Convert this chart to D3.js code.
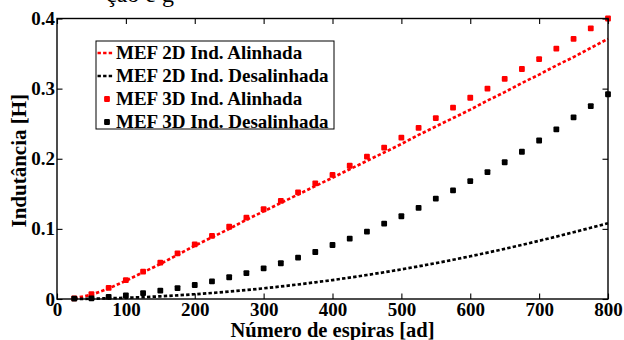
<!DOCTYPE html>
<html>
<head>
<meta charset="utf-8">
<script src="https://cdn.jsdelivr.net/npm/d3@7"></script>
<style>
  body { margin: 0; background: #fff; }
  svg { display: block; }
  text { font-family: "Liberation Serif", "Times New Roman", serif; fill: #000; }
</style>
</head>
<body>
<svg id="chart" width="624" height="340"></svg>
<script>
// Número de espiras (ad)
const espiras = [25, 50, 75, 100, 125, 150, 175, 200, 225, 250, 275, 300, 325, 350, 375, 400,
                 425, 450, 475, 500, 525, 550, 575, 600, 625, 650, 675, 700, 725, 750, 775, 800];

// Indutância [H] — MEF 2D, posição alinhada
const mef2dAlinhada = [0.001, 0.006, 0.015, 0.026, 0.038, 0.050, 0.063, 0.076, 0.088, 0.100, 0.113, 0.125,
                       0.137, 0.149, 0.161, 0.173, 0.185, 0.197, 0.209, 0.221, 0.234, 0.246, 0.258, 0.270,
                       0.283, 0.295, 0.308, 0.320, 0.333, 0.345, 0.358, 0.371];

// Indutância [H] — MEF 2D, posição desalinhada
const mef2dDesalinhada = [0.0001, 0.0004, 0.0010, 0.0017, 0.0026, 0.0038, 0.0052, 0.0068, 0.0086, 0.0106, 0.0128, 0.0152,
                          0.0179, 0.0207, 0.0238, 0.0270, 0.0305, 0.0342, 0.0381, 0.0422, 0.0466, 0.0511, 0.0559, 0.0609,
                          0.0661, 0.0715, 0.0771, 0.0830, 0.0890, 0.0952, 0.1016, 0.1080];

// Indutância [H] — MEF 3D, posição alinhada
const mef3dAlinhada = [0.001, 0.007, 0.016, 0.027, 0.039, 0.052, 0.065, 0.078, 0.090, 0.103, 0.116, 0.128,
                       0.140, 0.152, 0.165, 0.177, 0.190, 0.203, 0.216, 0.230, 0.244, 0.258, 0.273, 0.287,
                       0.300, 0.314, 0.328, 0.342, 0.357, 0.371, 0.386, 0.400];

// Indutância [H] — MEF 3D, posição desalinhada
const mef3dDesalinhada = [0.0005, 0.001, 0.003, 0.005, 0.0085, 0.012, 0.0156, 0.020, 0.025, 0.031, 0.037, 0.0436,
                          0.051, 0.059, 0.067, 0.077, 0.086, 0.096, 0.1075, 0.118, 0.130, 0.143, 0.155, 0.168,
                          0.181, 0.195, 0.210, 0.226, 0.242, 0.259, 0.275, 0.292];

const xTicks = [0, 100, 200, 300, 400, 500, 600, 700, 800];
const yTicks = [0, 0.1, 0.2, 0.3, 0.4];
const yTickLabels = ["0", "0.1", "0.2", "0.3", "0.4"];

const legendLabels = ["MEF 2D Ind. Alinhada", "MEF 2D Ind. Desalinhada",
                      "MEF 3D Ind. Alinhada", "MEF 3D Ind. Desalinhada"];

const xTitle = "Número de espiras [ad]";
const yTitle = "Indutância [H]";
const captionFragment = "ção e g";

// ---- layout ----
const svg = d3.select("#chart");
const plot = { left: 57, right: 608, top: 18.5, bottom: 299 };
const RED = "#ff0000", BLACK = "#000000";
const tickLen = 5.5;

const x = d3.scaleLinear().domain([0, 800]).range([plot.left, plot.right]);
const y = d3.scaleLinear().domain([0, 0.4]).range([plot.bottom, plot.top]);

// running text of the page above, clipped by the top edge
svg.append("text")
  .attr("x", 106).attr("y", 2)
  .style("font-size", "24px")
  .text(captionFragment);

// ---- series ----
const line = d3.line().x((d, i) => x(espiras[i])).y(d => y(d));

const dashed = [
  { values: mef2dAlinhada, color: RED },
  { values: mef2dDesalinhada, color: BLACK }
];
const markers = [
  { values: mef3dAlinhada, color: RED },
  { values: mef3dDesalinhada, color: BLACK }
];

const gData = svg.append("g");
dashed.forEach(s => {
  gData.append("path")
    .attr("d", line(s.values))
    .attr("fill", "none")
    .attr("stroke", s.color)
    .attr("stroke-width", 2.7)
    .attr("stroke-dasharray", "3.4 2.2");
});

const ms = 5.8;
markers.forEach(s => {
  gData.selectAll(null)
    .data(s.values)
    .join("rect")
    .attr("x", (d, i) => x(espiras[i]) - ms / 2)
    .attr("y", d => y(d) - ms / 2)
    .attr("width", ms).attr("height", ms)
    .attr("rx", 1)
    .attr("fill", s.color);
});

// ---- axes (ticks drawn inward on all four sides) ----
const xAxis = d3.axisBottom(x).tickValues(xTicks).tickFormat(d3.format("d"))
  .tickSizeInner(-tickLen).tickSizeOuter(0).tickPadding(3);
const yAxis = d3.axisLeft(y).tickValues(yTicks).tickFormat((d, i) => yTickLabels[i])
  .tickSizeInner(-tickLen).tickSizeOuter(0).tickPadding(2);
const xAxisTop = d3.axisTop(x).tickValues(xTicks).tickFormat("")
  .tickSizeInner(-tickLen).tickSizeOuter(0);
const yAxisRight = d3.axisRight(y).tickValues(yTicks).tickFormat("")
  .tickSizeInner(-tickLen).tickSizeOuter(0);

function styleAxis(g) {
  g.select(".domain").remove();
  g.selectAll(".tick line").attr("stroke", "#000").attr("stroke-width", 1.1);
  g.selectAll(".tick text")
    .style("font-size", "19px")
    .style("font-weight", "bold")
    .attr("fill", "#000");
}

svg.append("g").attr("transform", `translate(0,${plot.bottom})`).call(xAxis).call(styleAxis);
svg.append("g").attr("transform", `translate(${plot.left},0)`).call(yAxis).call(styleAxis);
svg.append("g").attr("transform", `translate(0,${plot.top})`).call(xAxisTop).call(styleAxis);
svg.append("g").attr("transform", `translate(${plot.right},0)`).call(yAxisRight).call(styleAxis);

svg.append("rect")
  .attr("x", plot.left).attr("y", plot.top)
  .attr("width", plot.right - plot.left).attr("height", plot.bottom - plot.top)
  .attr("fill", "none").attr("stroke", "#000").attr("stroke-width", 1.4);

// ---- axis titles ----
svg.append("text")
  .attr("x", (plot.left + plot.right) / 2).attr("y", 337)
  .attr("text-anchor", "middle")
  .style("font-size", "20.5px").style("font-weight", "bold")
  .text(xTitle);

svg.append("text")
  .attr("transform", `translate(26,${(plot.top + plot.bottom) / 2 + 2}) rotate(-90)`)
  .attr("text-anchor", "middle")
  .style("font-size", "21px").style("font-weight", "bold")
  .text(yTitle);

// ---- legend ----
const legend = { x: 96, y: 41, w: 238, h: 88, rowY: [53, 76, 99, 122] };
const gLeg = svg.append("g");
gLeg.append("rect")
  .attr("x", legend.x).attr("y", legend.y)
  .attr("width", legend.w).attr("height", legend.h)
  .attr("fill", "#fff").attr("stroke", "#000").attr("stroke-width", 1);

const legendItems = [
  { label: legendLabels[0], color: RED, kind: "line" },
  { label: legendLabels[1], color: BLACK, kind: "line" },
  { label: legendLabels[2], color: RED, kind: "marker" },
  { label: legendLabels[3], color: BLACK, kind: "marker" }
];

legendItems.forEach((it, i) => {
  const cy = legend.rowY[i];
  if (it.kind === "line") {
    gLeg.append("line")
      .attr("x1", legend.x + 1.5).attr("x2", legend.x + 18)
      .attr("y1", cy).attr("y2", cy)
      .attr("stroke", it.color).attr("stroke-width", 2.7)
      .attr("stroke-dasharray", "3.4 2.2");
  } else {
    gLeg.append("rect")
      .attr("x", legend.x + 11 - ms / 2).attr("y", cy - ms / 2)
      .attr("width", ms).attr("height", ms).attr("rx", 1)
      .attr("fill", it.color);
  }
  gLeg.append("text")
    .attr("x", legend.x + 20).attr("y", cy)
    .attr("dy", "0.34em")
    .style("font-size", "19px").style("font-weight", "bold")
    .text(it.label);
});
</script>
</body>
</html>
